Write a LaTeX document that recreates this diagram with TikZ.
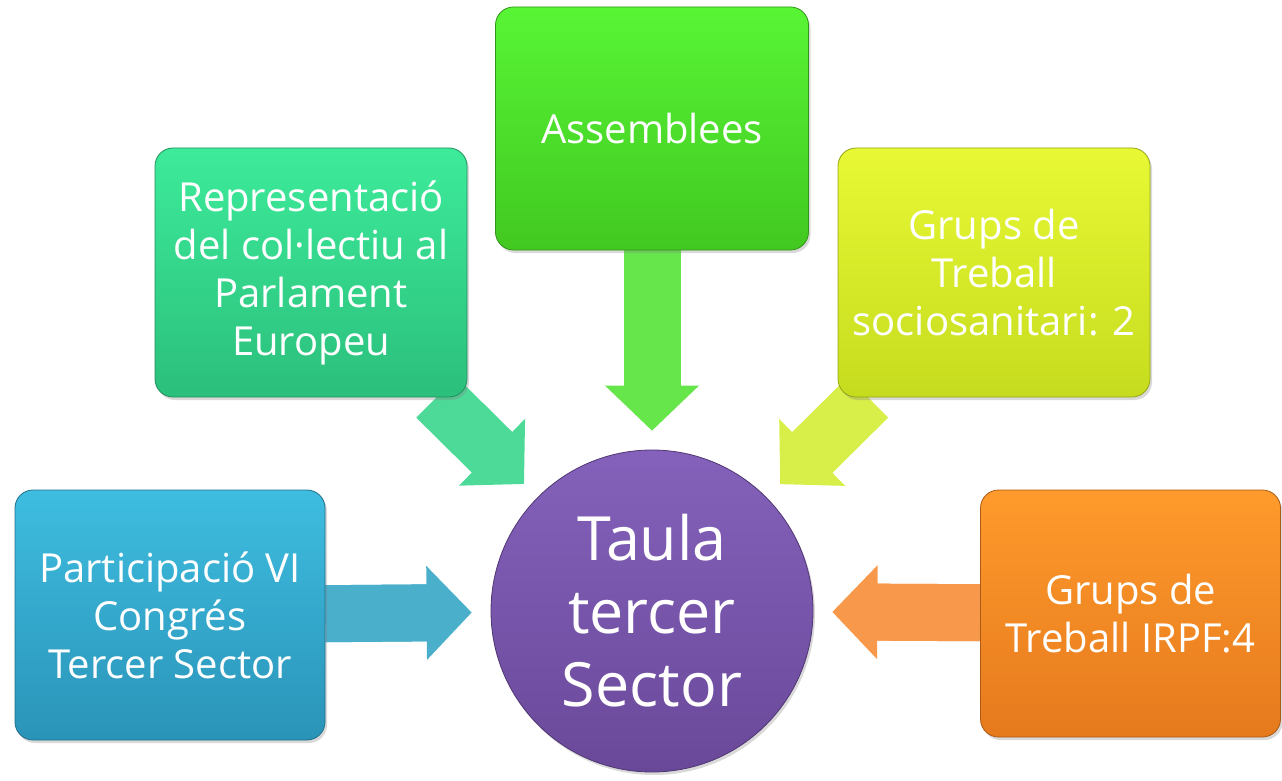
\documentclass[tikz,border=0pt]{standalone}
\usepackage{fontspec}
\setmainfont{Open Sans}
\usetikzlibrary{arrows.meta,shadows,backgrounds}
\definecolor{bluetop}{HTML}{3EBDE0}
\definecolor{bluebot}{HTML}{2A94B8}
\definecolor{bluearr}{HTML}{4AAFCB}
\definecolor{tealtop}{HTML}{3DEB9A}
\definecolor{tealbot}{HTML}{2BBF7C}
\definecolor{tealarr}{HTML}{4DDA98}
\definecolor{greentop}{HTML}{58F535}
\definecolor{greenbot}{HTML}{42C821}
\definecolor{greenarr}{HTML}{66E64B}
\definecolor{yeltop}{HTML}{E8F834}
\definecolor{yelbot}{HTML}{C5DC1E}
\definecolor{yelarr}{HTML}{D8EF4A}
\definecolor{orgtop}{HTML}{FF9A2C}
\definecolor{orgbot}{HTML}{E57A1D}
\definecolor{orgarr}{HTML}{F8984A}
\definecolor{purtop}{HTML}{8462BB}
\definecolor{purbot}{HTML}{6A4899}
\begin{document}
\begin{tikzpicture}[x=1pt,y=-1pt,
  box/.style={draw=#1!75!black, line width=0.8pt, rounded corners=18pt,
    text=white, align=center, inner sep=0pt,
    font=\fontsize{40}{48}\selectfont,
    drop shadow={opacity=0.3,shadow xshift=2pt,shadow yshift=-3pt}},
  fat/.style={draw=#1, line width=57pt,
    -{Triangle[length=45pt,width=94pt,line width=0pt]}, shorten >=19pt},
  shaft/.style={draw=#1, line width=57pt, shorten >=61pt}
]
\useasboundingbox (0,0) rectangle (1282,781);
% boxes
\node[box=bluebot, top color=bluetop, bottom color=bluebot,
  minimum width=310pt, minimum height=250pt] (part) at (170,615)
  {Participació VI\\Congrés\\Tercer Sector};
\node[box=tealbot, top color=tealtop, bottom color=tealbot,
  minimum width=312pt, minimum height=249pt] (repr) at (311,272.5)
  {Representació\\del col·lectiu al\\Parlament\\Europeu};
\node[box=greenbot, top color=greentop, bottom color=greenbot,
  minimum width=313pt, minimum height=243pt] (assem) at (652,128.5)
  {Assemblees};
\node[box=yelbot, top color=yeltop, bottom color=yelbot,
  minimum width=312pt, minimum height=249pt] (socio) at (994,272.5)
  {Grups de\\Treball\\sociosanitari: 2};
\node[box=orgbot, top color=orgtop, bottom color=orgbot,
  minimum width=300pt, minimum height=247pt] (irpf) at (1130.5,613.5)
  {Grups de\\Treball IRPF:4};
% hub
\node[circle, draw=purbot!75!black, line width=0.8pt,
  top color=purtop, bottom color=purbot, text=white, align=center,
  inner sep=0pt, minimum size=322pt,
  font=\fontsize{61}{73}\selectfont,
  drop shadow={opacity=0.3,shadow xshift=2pt,shadow yshift=-3pt}]
  (hub) at (652,611) {Taula\\tercer\\Sector};
% arrows
\begin{scope}[on background layer]
  \draw[fat=bluearr] (part) -- (hub);
  \draw[shaft=bluearr] (part) -- (hub);
  \draw[fat=tealarr] (repr) -- (hub);
  \draw[shaft=tealarr] (repr) -- (hub);
  \draw[fat=greenarr] (assem) -- (hub);
  \draw[shaft=greenarr] (assem) -- (hub);
  \draw[fat=yelarr] (socio) -- (hub);
  \draw[shaft=yelarr] (socio) -- (hub);
  \draw[fat=orgarr] (irpf) -- (hub);
  \draw[shaft=orgarr] (irpf) -- (hub);
\end{scope}
\end{tikzpicture}
\end{document}
